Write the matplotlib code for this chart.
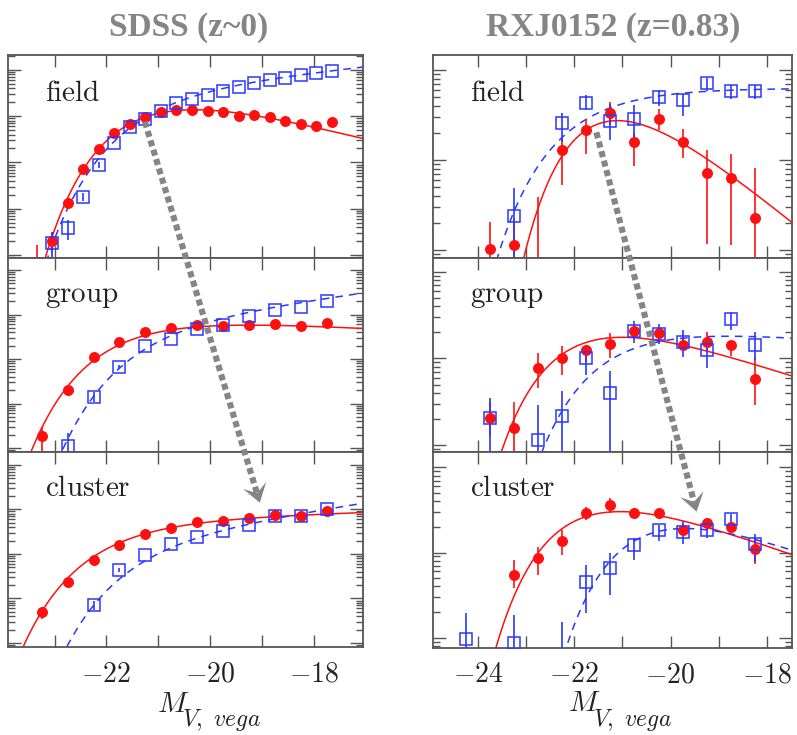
import numpy as np
import matplotlib
matplotlib.use("Agg")
import matplotlib.pyplot as plt
from matplotlib.lines import Line2D
from matplotlib.patches import Polygon
from matplotlib.ticker import FixedLocator, FixedFormatter, LogLocator, NullFormatter, NullLocator

plt.rcParams['mathtext.fontset'] = 'cm'

# ---------------- data (log10 of the luminosity function, arbitrary units) ----------------
# SDSS field
sdss_field_red_mag = [-23.35, -23.05, -22.75, -22.45, -22.15, -21.85, -21.55, -21.25, -20.95, -20.65,
                      -20.35, -20.05, -19.75, -19.45, -19.15, -18.85, -18.55, -18.25, -17.95, -17.65]
sdss_field_red = [-0.5, 0.31, 1.12, 1.86, 2.29, 2.64, 2.83, 2.99, 3.09, 3.13,
                  3.14, 3.11, 3.09, 3.00, 3.02, 2.98, 2.89, 2.83, 2.79, 2.88]
sdss_field_red_up = [0.72, 0.18, 0.05] + [0] * 17
sdss_field_red_dn = [1.5, 0.25, 0.06] + [0] * 17
sdss_field_blue_mag = [-23.05, -22.75, -22.45, -22.15, -21.85, -21.55, -21.25, -20.95, -20.65, -20.35,
                       -20.05, -19.75, -19.45, -19.15, -18.85, -18.55, -18.25, -17.95, -17.65]
sdss_field_blue = [0.25, 0.58, 1.26, 1.95, 2.41, 2.77, 2.93, 3.10, 3.28, 3.37,
                   3.46, 3.55, 3.63, 3.71, 3.77, 3.82, 3.88, 3.93, 3.98]
sdss_field_blue_up = [0.25, 0.18, 0.08, 0.06] + [0] * 15
sdss_field_blue_dn = [1.5, 0.26, 0.10, 0.08] + [0] * 15

# SDSS group
sdss_group_red_mag = [-23.25, -22.75, -22.25, -21.75, -21.25, -20.75, -20.25, -19.75, -19.25, -18.75, -18.25, -17.75]
sdss_group_red = [0.28, 1.30, 2.05, 2.39, 2.60, 2.69, 2.76, 2.75, 2.76, 2.79, 2.74, 2.80]
sdss_group_red_up = [0.20, 0.07, 0.03] + [0] * 9
sdss_group_red_dn = [1.5, 0.08, 0.04] + [0] * 9
sdss_group_blue_mag = [-22.75, -22.25, -21.75, -21.25, -20.75, -20.25, -19.75, -19.25, -18.75, -18.25, -17.75]
sdss_group_blue = [0.045, 1.15, 1.83, 2.30, 2.45, 2.67, 2.76, 2.97, 3.10, 3.18, 3.31]
sdss_group_blue_up = [0.30, 0.10, 0.04] + [0] * 8
sdss_group_blue_dn = [1.5, 0.12, 0.05] + [0] * 8

# SDSS cluster
sdss_cluster_red_mag = [-23.25, -22.75, -22.25, -21.75, -21.25, -20.75, -20.25, -19.75, -19.25, -18.75, -18.25, -17.75]
sdss_cluster_red = [0.70, 1.36, 1.87, 2.20, 2.45, 2.59, 2.71, 2.74, 2.80, 2.88, 2.85, 2.97]
sdss_cluster_red_up = [0.10, 0.04] + [0] * 10
sdss_cluster_red_dn = [0.15, 0.05] + [0] * 10
sdss_cluster_blue_mag = [-22.25, -21.75, -21.25, -20.75, -20.25, -19.75, -19.25, -18.75, -18.25, -17.75]
sdss_cluster_blue = [0.85, 1.64, 1.98, 2.22, 2.37, 2.52, 2.65, 2.86, 2.85, 3.00]
sdss_cluster_blue_up = [0.10, 0.04] + [0] * 8
sdss_cluster_blue_dn = [0.12, 0.05] + [0] * 8

# RXJ0152 field
rxj_field_red_mag = [-23.75, -23.25, -22.75, -22.25, -21.75, -21.25, -20.75, -20.25, -19.75, -19.25, -18.75, -18.25]
rxj_field_red = [0.01, 0.056, -0.5, 1.11, 1.33, 1.53, 1.20, 1.46, 1.20, 0.86, 0.80, 0.36]
rxj_field_red_up = [0.30, 0.30, 1.09, 0.13, 0.13, 0.12, 0.10, 0.11, 0.15, 0.25, 0.27, 0.55]
rxj_field_red_dn = [1.5, 1.5, 1.5, 0.39, 0.26, 0.14, 0.26, 0.13, 0.18, 0.79, 0.74, 1.5]
rxj_field_blue_mag = [-23.25, -22.25, -21.75, -21.25, -20.75, -20.25, -19.75, -19.25, -18.75, -18.25]
rxj_field_blue = [0.38, 1.41, 1.64, 1.43, 1.46, 1.70, 1.67, 1.86, 1.77, 1.77]
rxj_field_blue_up = [0.31, 0.11, 0.09, 0.20, 0.15, 0.08, 0.07, 0.05, 0.07, 0.07]
rxj_field_blue_dn = [1.5, 0.21, 0.08, 0.21, 0.24, 0.10, 0.18, 0.09, 0.09, 0.09]

# RXJ0152 group
rxj_group_red_mag = [-23.75, -23.25, -22.75, -22.25, -21.75, -21.25, -20.75, -20.25, -19.75, -19.25, -18.75, -18.25]
rxj_group_red = [0.31, 0.20, 0.89, 1.01, 1.10, 1.17, 1.32, 1.29, 1.16, 1.19, 1.15, 0.76]
rxj_group_red_up = [0.20, 0.30, 0.17, 0.13, 0.06, 0.12, 0.08, 0.07, 0.08, 0.12, 0.05, 0.24]
rxj_group_red_dn = [0.20, 1.5, 0.23, 0.20, 0.14, 0.17, 0.08, 0.06, 0.07, 0.09, 0.12, 0.30]
rxj_group_blue_mag = [-23.75, -22.75, -22.25, -21.75, -21.25, -20.75, -20.25, -19.75, -19.25, -18.75, -18.25]
rxj_group_blue = [0.31, 0.06, 0.34, 1.01, 0.60, 1.32, 1.28, 1.19, 1.10, 1.45, 1.16]
rxj_group_blue_up = [0.23, 0.40, 0.28, 0.11, 0.25, 0.11, 0.12, 0.14, 0.15, 0.09, 0.15]
rxj_group_blue_dn = [1.5, 1.5, 1.5, 0.20, 1.5, 0.14, 0.11, 0.17, 0.21, 0.12, 0.18]

# RXJ0152 cluster
rxj_cluster_red_mag = [-23.25, -22.75, -22.25, -21.75, -21.25, -20.75, -20.25, -19.75, -19.25, -18.75, -18.25]
rxj_cluster_red = [0.74, 0.94, 1.13, 1.46, 1.56, 1.46, 1.46, 1.27, 1.35, 1.30, 1.04]
rxj_cluster_red_up = [0.17, 0.13, 0.13, 0.07, 0.08, 0.06, 0.06, 0.07, 0.05, 0.06, 0.13]
rxj_cluster_red_dn = [0.16, 0.20, 0.16, 0.08, 0.10, 0.06, 0.06, 0.08, 0.06, 0.05, 0.17]
rxj_cluster_blue_mag = [-24.25, -23.25, -22.25, -21.75, -21.25, -20.75, -20.25, -19.75, -19.25, -18.75, -18.25]
rxj_cluster_blue = [-0.015, -0.06, -0.5, 0.65, 0.82, 1.09, 1.26, 1.24, 1.27, 1.39, 1.10]
rxj_cluster_blue_up = [0.30, 0.33, 0.69, 0.20, 0.17, 0.08, 0.06, 0.13, 0.07, 0.06, 0.12]
rxj_cluster_blue_dn = [1.5, 1.5, 1.5, 0.36, 0.32, 0.18, 0.12, 0.14, 0.10, 0.09, 0.21]

# Schechter fits: (alpha, M*, log normalisation)
sdss_fits_red = [(-0.3, -20.69, 3.55), (-0.85, -21.3, 2.95), (-1.1, -21.6, 2.755)]
sdss_fits_blue = [(-1.3, -20.9, 3.61), (-1.4, -20.9, 2.88), (-1.45, -21.0, 2.44)]
rxj_fits_red = [(0.1, -21.0, 1.872), (-0.55, -21.87, 1.596), (-0.5, -21.8, 1.848)]
rxj_fits_blue = [(-1.0, -22.0, 1.80), (-0.9, -21.3, 1.40), (-0.5, -20.45, 1.65)]

env_labels = ["field", "group", "cluster"]
col_titles = ["SDSS (z~0)", "RXJ0152 (z=0.83)"]
sdss_xticks = [-23, -22, -21, -20, -19, -18]
sdss_xticklabels = ["", "$-22$", "", "$-20$", "", "$-18$"]
rxj_xticks = [-24, -23, -22, -21, -20, -19, -18]
rxj_xticklabels = ["$-24$", "", "$-22$", "", "$-20$", "", "$-18$"]

# arrows: (mag, log phi) start in field panel, tip in cluster panel
sdss_arrow = [(-21.26, 2.88), (-19.04, 3.15)]
rxj_arrow = [(-21.54, 1.31), (-19.46, 1.48)]

RED = "#ff1010"
BLUE = "#2838ff"
GREY = "#858585"
INK = "#222222"


def schechter(m, alpha, mstar, logc):
    u = 0.4 * (mstar - m)
    return 10 ** (logc + (alpha + 1) * u - 10 ** u / np.log(10))


W, H = 797, 735
fig = plt.figure(figsize=(W / 100, H / 100), dpi=100)


def box(x0, x1, y0, y1):
    return [x0 / W, 1 - y1 / H, (x1 - x0) / W, (y1 - y0) / H]


def points(ax, mag, v, up, dn, color, marker, ms, mfc):
    v = np.array(v)
    y = 10 ** v
    yerr = [y - 10 ** (v - np.array(dn)), 10 ** (v + np.array(up)) - y]
    ax.errorbar(mag, y, yerr=yerr, fmt=marker, color=color, ms=ms, mfc=mfc, mec=color,
                mew=1.1, elinewidth=1.2, capsize=0, zorder=4)


cols = [
    dict(x=(8, 363), rows=[(55, 258), (258, 452), (452, 647)], xlim=(-23.9, -17.05),
         ylims=[(-0.065, 4.32), (-0.09, 4.27), (-0.09, 4.29)],
         red=[(sdss_field_red_mag, sdss_field_red, sdss_field_red_up, sdss_field_red_dn),
              (sdss_group_red_mag, sdss_group_red, sdss_group_red_up, sdss_group_red_dn),
              (sdss_cluster_red_mag, sdss_cluster_red, sdss_cluster_red_up, sdss_cluster_red_dn)],
         blue=[(sdss_field_blue_mag, sdss_field_blue, sdss_field_blue_up, sdss_field_blue_dn),
               (sdss_group_blue_mag, sdss_group_blue, sdss_group_blue_up, sdss_group_blue_dn),
               (sdss_cluster_blue_mag, sdss_cluster_blue, sdss_cluster_blue_up, sdss_cluster_blue_dn)],
         fred=sdss_fits_red, fblue=sdss_fits_blue, ticks=sdss_xticks, labels=sdss_xticklabels,
         arrow=sdss_arrow, xlab=(0.42, 0.49, -0.333, -0.405), title_x=189),
    dict(x=(433, 792), rows=[(55, 258), (258, 452), (452, 648)], xlim=(-24.93, -17.48),
         ylims=[(-0.089, 2.17), (-0.08, 2.16), (-0.12, 2.18)],
         red=[(rxj_field_red_mag, rxj_field_red, rxj_field_red_up, rxj_field_red_dn),
              (rxj_group_red_mag, rxj_group_red, rxj_group_red_up, rxj_group_red_dn),
              (rxj_cluster_red_mag, rxj_cluster_red, rxj_cluster_red_up, rxj_cluster_red_dn)],
         blue=[(rxj_field_blue_mag, rxj_field_blue, rxj_field_blue_up, rxj_field_blue_dn),
               (rxj_group_blue_mag, rxj_group_blue, rxj_group_blue_up, rxj_group_blue_dn),
               (rxj_cluster_blue_mag, rxj_cluster_blue, rxj_cluster_blue_up, rxj_cluster_blue_dn)],
         fred=rxj_fits_red, fblue=rxj_fits_blue, ticks=rxj_xticks, labels=rxj_xticklabels,
         arrow=rxj_arrow, xlab=(0.376, 0.446, -0.321, -0.398), title_x=613),
]

inv = fig.transFigure.inverted()

for ci, col in enumerate(cols):
    axes = []
    for ri in range(3):
        ax = fig.add_axes(box(col["x"][0], col["x"][1], *col["rows"][ri]))
        axes.append(ax)
        ax.set_yscale("log")
        ax.set_xlim(*col["xlim"])
        lo, hi = col["ylims"][ri]
        ax.set_ylim(10 ** lo, 10 ** hi)

        mm = np.linspace(col["xlim"][0], col["xlim"][1], 400)
        ax.plot(mm, schechter(mm, *col["fred"][ri]), color=RED, lw=1.1, zorder=2)
        ax.plot(mm, schechter(mm, *col["fblue"][ri]), color=BLUE, lw=1.1, ls=(0, (5, 4)), zorder=2)
        points(ax, *col["red"][ri], RED, "o", 6.8, RED)
        points(ax, *col["blue"][ri], BLUE, "s", 8.0, "none")

        ax.text(0.104, 0.775, r"$\mathrm{%s}$" % env_labels[ri], transform=ax.transAxes,
                fontsize=21, color=INK, va="baseline", ha="left")

        ax.xaxis.set_major_locator(FixedLocator(col["ticks"]))
        ax.xaxis.set_minor_locator(NullLocator())
        if ri == 2:
            ax.xaxis.set_major_formatter(FixedFormatter(col["labels"]))
        else:
            ax.xaxis.set_major_formatter(NullFormatter())
        ax.yaxis.set_major_locator(LogLocator(base=10))
        ax.yaxis.set_minor_locator(LogLocator(base=10, subs=np.arange(2, 10)))
        ax.yaxis.set_major_formatter(NullFormatter())
        ax.yaxis.set_minor_formatter(NullFormatter())
        ax.tick_params(which="both", direction="in", top=True, right=True, color="#555555", width=1.0)
        ax.tick_params(axis="x", which="major", length=8.5, labelsize=20, pad=9, labelcolor=INK)
        ax.tick_params(axis="y", which="major", length=9.5)
        ax.tick_params(axis="y", which="minor", length=5)
        for s in ax.spines.values():
            s.set_color("#555555")
            s.set_linewidth(1.3)

    # x-axis label: M with a large subscript, as in the original
    mx, sx, my, sy = col["xlab"]
    axes[2].text(mx, my, r"$M$", transform=axes[2].transAxes, fontsize=21, color=INK,
                 ha="left", va="baseline")
    axes[2].text(sx, sy, r"$V,\ vega$", transform=axes[2].transAxes, fontsize=17, color=INK,
                 ha="left", va="baseline")

    fig.text(col["title_x"] / W, 1 - 36 / H, col_titles[ci], fontsize=24, fontweight="bold",
             family="Liberation Serif", color=GREY, ha="center", va="baseline")

    # dotted grey arrow from the field panel down to the cluster panel
    (m0, l0), (m1, l1) = col["arrow"]
    p0 = axes[0].transData.transform((m0, 10 ** l0))
    p1 = axes[2].transData.transform((m1, 10 ** l1))
    d = (p1 - p0) / np.hypot(*(p1 - p0))
    n = np.array([-d[1], d[0]])
    notch = p1 - d * 10
    head = [p1, p1 - d * 18 + n * 12, notch, p1 - d * 18 - n * 12]
    f0, fn = inv.transform(p0), inv.transform(notch + d * 2)
    fig.add_artist(Line2D([f0[0], fn[0]], [f0[1], fn[1]], transform=fig.transFigure, color=GREY,
                          lw=4.4, ls=(0, (1.0, 0.6)), dash_capstyle="butt", zorder=6))
    fig.add_artist(Polygon(inv.transform(np.array(head)), closed=True, transform=fig.transFigure,
                           facecolor=GREY, edgecolor="none", zorder=6))

fig.savefig("out.png", dpi=100)
